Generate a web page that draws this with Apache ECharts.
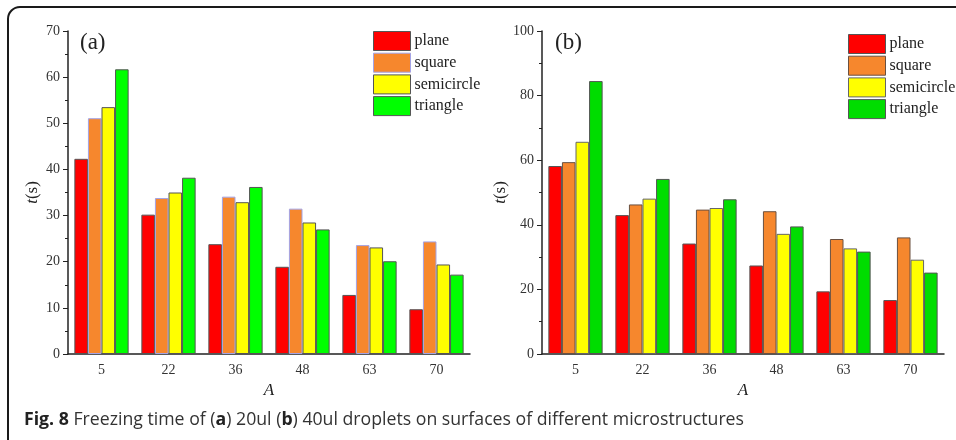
<!DOCTYPE html>
<html>
<head>
<meta charset="utf-8">
<script src="https://cdn.jsdelivr.net/npm/echarts@6/dist/echarts.min.js"></script>
<style>
  html, body { margin: 0; padding: 0; background: #fff; }
  #main { width: 956px; height: 440px; }
</style>
</head>
<body>
<div id="main"></div>
<script>
var categories = ['5', '22', '36', '48', '63', '70'];
var seriesNames = ['plane', 'square', 'semicircle', 'triangle'];

// (a) 20ul droplets
var planeA = [42.3, 30.2, 23.8, 18.9, 12.8, 9.7];
var squareA = [51.1, 33.8, 34.1, 31.5, 23.6, 24.4];
var semicircleA = [53.5, 35.0, 32.9, 28.5, 23.1, 19.4];
var triangleA = [61.7, 38.2, 36.2, 27.0, 20.1, 17.2];

// (b) 40ul droplets
var planeB = [58.2, 43.0, 34.2, 27.4, 19.4, 16.7];
var squareB = [59.4, 46.3, 44.7, 44.2, 35.6, 36.1];
var semicircleB = [65.7, 48.1, 45.2, 37.2, 32.7, 29.2];
var triangleB = [84.5, 54.2, 47.9, 39.5, 31.7, 25.2];

var serif = '"Liberation Serif", "DejaVu Serif", serif';
var fillA = ['#ff0000', '#f6872d', '#ffff00', '#00ff00'];
var fillB = ['#ff0000', '#f6872d', '#ffff00', '#00dd00'];
var edgeA = ['#555', '#a3a3e6', '#555', '#555'];
var edgeB = ['#555', '#6a5040', '#666', '#555'];

var myChart = echarts.init(document.getElementById('main'));

function yAxis(idx, max, interval) {
    return {
        type: 'value',
        gridIndex: idx,
        min: 0,
        max: max,
        interval: interval,
        name: '{i|t}(s)',
        nameLocation: 'middle',
        nameRotate: 90,
        nameGap: idx === 0 ? 27 : 31,
        nameTextStyle: {
            fontFamily: serif, fontSize: 17, color: '#222',
            rich: { i: { fontFamily: serif, fontSize: 17, fontStyle: 'italic', color: '#222' } }
        },
        axisLine: { show: true, lineStyle: { color: '#222', width: 1.5 } },
        axisTick: { show: true, inside: false, length: 5, lineStyle: { color: '#222' } },
        minorTick: { show: true, splitNumber: 2, length: 3, lineStyle: { color: '#222' } },
        splitLine: { show: false },
        axisLabel: { fontFamily: serif, fontSize: 14, color: '#333', margin: 8 }
    };
}

function xAxes(idx) {
    return [{
        type: 'category',
        gridIndex: idx,
        data: categories,
        name: 'A',
        nameLocation: 'middle',
        nameGap: 28,
        nameTextStyle: { fontFamily: serif, fontSize: 17, fontStyle: 'italic', color: '#222' },
        axisLine: { lineStyle: { color: '#222', width: 1.5 } },
        axisTick: { alignWithLabel: true, length: 5, lineStyle: { color: '#222' } },
        axisLabel: { fontFamily: serif, fontSize: 14, color: '#333', margin: 9 }
    }, {
        type: 'category',
        gridIndex: idx,
        data: categories,
        position: 'bottom',
        axisLine: { show: false },
        axisTick: { inside: true, length: 3, lineStyle: { color: '#222' } },
        axisLabel: { show: false }
    }];
}

function bars(idx, values, fills, edges) {
    return values.map(function (data, k) {
        return {
            name: seriesNames[k],
            type: 'bar',
            xAxisIndex: idx * 2,
            yAxisIndex: idx,
            data: data,
            barGap: '0%',
            barCategoryGap: '19%',
            itemStyle: { color: fills[k], borderColor: edges[k], borderWidth: 1 },
            emphasis: { disabled: true }
        };
    });
}

function legend(left, top, fills, edges) {
    return {
        orient: 'vertical',
        left: left,
        top: top,
        padding: 0,
        itemWidth: 37,
        itemHeight: 19,
        itemGap: 1.7,
        icon: 'rect',
        selectedMode: false,
        textStyle: { fontFamily: serif, fontSize: 16, color: '#222', padding: [0, 0, 0, -1] },
        data: seriesNames.map(function (n, k) {
            return { name: n, itemStyle: { color: fills[k], borderColor: edges[k], borderWidth: 1 } };
        })
    };
}

var option = {
    backgroundColor: '#fff',
    animation: false,
    grid: [
        { left: 68, right: 486, top: 31, bottom: 86 },
        { left: 542, right: 12, top: 31, bottom: 86 }
    ],
    xAxis: xAxes(0).concat(xAxes(1)),
    yAxis: [yAxis(0, 70, 10), yAxis(1, 100, 20)],
    legend: [legend(373, 31, fillA, edgeA), legend(848, 34, fillB, edgeB)],
    series: bars(0, [planeA, squareA, semicircleA, triangleA], fillA, edgeA)
        .concat(bars(1, [planeB, squareB, semicircleB, triangleB], fillB, edgeB)),
    graphic: [
        {
            type: 'rect',
            shape: { x: 8, y: 7, width: 980, height: 480, r: 12 },
            style: { fill: 'none', stroke: '#1a1a1a', lineWidth: 2 },
            silent: true
        },
        {
            type: 'text', left: 80, top: 31,
            style: { text: '(a)', fontFamily: serif, fontSize: 23, fill: '#222' }
        },
        {
            type: 'text', left: 555, top: 31,
            style: { text: '(b)', fontFamily: serif, fontSize: 23, fill: '#222' }
        },
        {
            type: 'text', left: 24, top: 411,
            style: {
                text: '{b|Fig. 8} Freezing time of ({b|a}) 20ul ({b|b}) 40ul droplets on surfaces of different microstructures',
                fontFamily: '"Open Sans", sans-serif', fontSize: 17.7, fill: '#333',
                rich: {
                    b: { fontFamily: '"Open Sans", sans-serif', fontSize: 17.7, fontWeight: 'bold', fill: '#222' }
                }
            }
        }
    ]
};

myChart.setOption(option);
</script>
</body>
</html>
